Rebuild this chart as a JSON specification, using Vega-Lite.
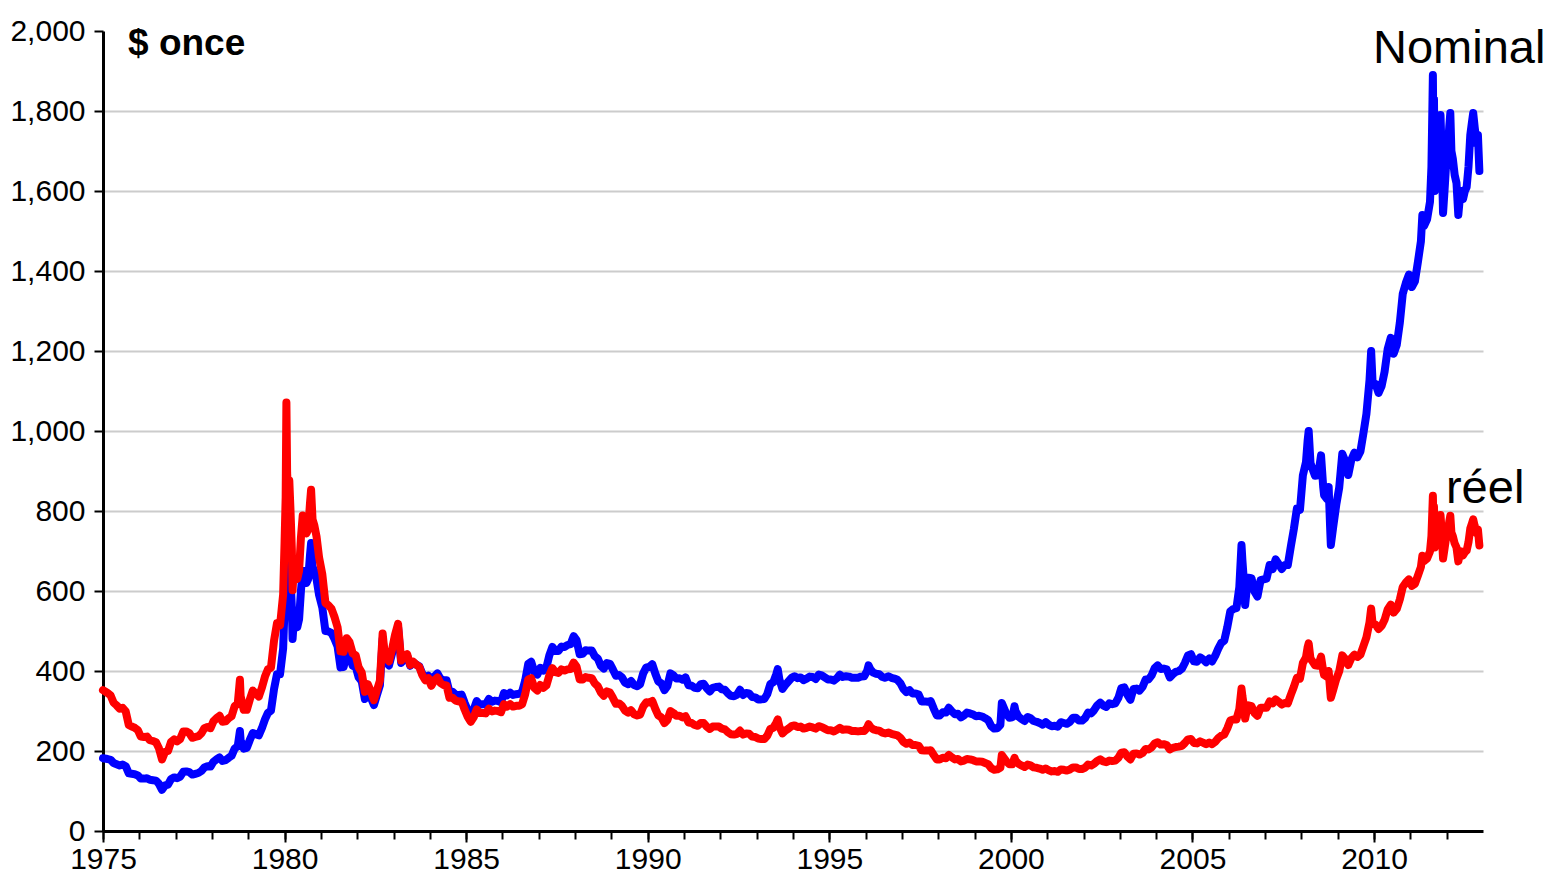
{
"$schema": "https://vega.github.io/schema/vega-lite/v6.json",
"width": 1380, "height": 800,
"autosize": {"type": "none"},
"padding": {"left": 103, "top": 31, "right": 73, "bottom": 43},
"background": "white",
"config": {"view": {"stroke": null}, "font": "Liberation Sans", "axis": {"labelOverlap": false}},
"datasets": {
"gold": [
{"t":1975.0,"n":182,"r":352},{"t":1975.125,"n":180,"r":345},{"t":1975.21,"n":178,"r":339},{"t":1975.29,"n":170,"r":321},{"t":1975.375,"n":167,"r":314},{"t":1975.46,"n":164,"r":306},{"t":1975.54,"n":166,"r":308},{"t":1975.625,"n":162,"r":299},{"t":1975.71,"n":144,"r":265},{"t":1975.79,"n":143,"r":261},{"t":1975.875,"n":142,"r":258},{"t":1975.96,"n":139,"r":252},
{"t":1976.04,"n":131,"r":236},{"t":1976.125,"n":131,"r":235},{"t":1976.21,"n":132,"r":236},{"t":1976.29,"n":128,"r":227},{"t":1976.375,"n":127,"r":225},{"t":1976.46,"n":126,"r":222},{"t":1976.54,"n":118,"r":207},{"t":1976.625,"n":103,"r":179},{"t":1976.71,"n":114,"r":198},{"t":1976.79,"n":116,"r":200},{"t":1976.875,"n":130,"r":223},{"t":1976.96,"n":134,"r":229},
{"t":1977.04,"n":132,"r":224},{"t":1977.125,"n":136,"r":230},{"t":1977.21,"n":148,"r":249},{"t":1977.29,"n":149,"r":249},{"t":1977.375,"n":147,"r":245},{"t":1977.46,"n":141,"r":233},{"t":1977.54,"n":143,"r":235},{"t":1977.625,"n":145,"r":237},{"t":1977.71,"n":150,"r":244},{"t":1977.79,"n":159,"r":257},{"t":1977.875,"n":162,"r":260},{"t":1977.96,"n":161,"r":257},
{"t":1978.04,"n":173,"r":274},{"t":1978.125,"n":179,"r":282},{"t":1978.21,"n":184,"r":288},{"t":1978.29,"n":175,"r":273},{"t":1978.375,"n":177,"r":274},{"t":1978.46,"n":183,"r":282},{"t":1978.54,"n":188,"r":287},{"t":1978.625,"n":206,"r":312},{"t":1978.71,"n":212,"r":318},{"t":1978.77,"n":250,"r":378},{"t":1978.79,"n":227,"r":337},{"t":1978.875,"n":206,"r":303},{"t":1978.96,"n":208,"r":303},
{"t":1979.04,"n":227,"r":328},{"t":1979.125,"n":245,"r":351},{"t":1979.21,"n":242,"r":344},{"t":1979.29,"n":239,"r":336},{"t":1979.375,"n":257,"r":358},{"t":1979.46,"n":279,"r":386},{"t":1979.54,"n":295,"r":404},{"t":1979.625,"n":301,"r":408},{"t":1979.71,"n":355,"r":476},{"t":1979.79,"n":392,"r":519},{"t":1979.875,"n":392,"r":514},{"t":1979.96,"n":456,"r":591},
{"t":1980.0,"n":560,"r":723},{"t":1980.03,"n":650,"r":835},{"t":1980.05,"n":835,"r":1071},{"t":1980.07,"n":700,"r":895},{"t":1980.1,"n":660,"r":841},{"t":1980.13,"n":690,"r":876},{"t":1980.16,"n":640,"r":809},{"t":1980.2,"n":560,"r":704},{"t":1980.22,"n":480,"r":602},{"t":1980.25,"n":520,"r":650},{"t":1980.3,"n":520,"r":647},{"t":1980.35,"n":510,"r":630},{"t":1980.4,"n":530,"r":651},{"t":1980.45,"n":600,"r":733},{"t":1980.5,"n":650,"r":789},{"t":1980.55,"n":650,"r":785},{"t":1980.6,"n":620,"r":744},{"t":1980.65,"n":630,"r":753},{"t":1980.7,"n":690,"r":820},{"t":1980.73,"n":720,"r":853},{"t":1980.77,"n":660,"r":779},{"t":1980.82,"n":650,"r":764},{"t":1980.88,"n":630,"r":736},{"t":1980.95,"n":590,"r":684},
{"t":1981.04,"n":558,"r":641},{"t":1981.125,"n":500,"r":570},{"t":1981.21,"n":499,"r":564},{"t":1981.29,"n":495,"r":556},{"t":1981.375,"n":480,"r":535},{"t":1981.46,"n":461,"r":509},{"t":1981.54,"n":409,"r":449},{"t":1981.625,"n":410,"r":448},{"t":1981.71,"n":444,"r":482},{"t":1981.79,"n":437,"r":472},{"t":1981.875,"n":413,"r":444},{"t":1981.96,"n":410,"r":439},
{"t":1982.04,"n":384,"r":409},{"t":1982.125,"n":374,"r":396},{"t":1982.21,"n":330,"r":348},{"t":1982.29,"n":350,"r":367},{"t":1982.375,"n":334,"r":349},{"t":1982.46,"n":315,"r":327},{"t":1982.54,"n":339,"r":351},{"t":1982.625,"n":364,"r":376},{"t":1982.7,"n":480,"r":494},{"t":1982.75,"n":436,"r":449},{"t":1982.8,"n":422,"r":433},{"t":1982.875,"n":414,"r":424},{"t":1982.96,"n":444,"r":454},
{"t":1983.04,"n":481,"r":490},{"t":1983.125,"n":510,"r":518},{"t":1983.21,"n":420,"r":426},{"t":1983.29,"n":432,"r":436},{"t":1983.375,"n":438,"r":442},{"t":1983.46,"n":413,"r":415},{"t":1983.54,"n":422,"r":423},{"t":1983.625,"n":416,"r":416},{"t":1983.71,"n":412,"r":410},{"t":1983.79,"n":394,"r":390},{"t":1983.875,"n":382,"r":377},{"t":1983.96,"n":388,"r":382},
{"t":1984.04,"n":370,"r":363},{"t":1984.125,"n":386,"r":377},{"t":1984.21,"n":394,"r":384},{"t":1984.29,"n":381,"r":370},{"t":1984.375,"n":377,"r":365},{"t":1984.46,"n":377,"r":364},{"t":1984.54,"n":347,"r":333},{"t":1984.625,"n":348,"r":333},{"t":1984.71,"n":341,"r":326},{"t":1984.79,"n":340,"r":324},{"t":1984.875,"n":341,"r":324},{"t":1984.96,"n":320,"r":303},
{"t":1985.04,"n":303,"r":286},{"t":1985.125,"n":290,"r":273},{"t":1985.21,"n":304,"r":285},{"t":1985.29,"n":325,"r":304},{"t":1985.375,"n":316,"r":295},{"t":1985.46,"n":317,"r":295},{"t":1985.54,"n":317,"r":294},{"t":1985.625,"n":330,"r":306},{"t":1985.71,"n":323,"r":299},{"t":1985.79,"n":326,"r":301},{"t":1985.875,"n":325,"r":300},{"t":1985.96,"n":322,"r":297},
{"t":1986.04,"n":345,"r":317},{"t":1986.125,"n":339,"r":311},{"t":1986.21,"n":346,"r":317},{"t":1986.29,"n":340,"r":311},{"t":1986.375,"n":342,"r":313},{"t":1986.46,"n":343,"r":313},{"t":1986.54,"n":348,"r":317},{"t":1986.625,"n":376,"r":342},{"t":1986.71,"n":418,"r":379},{"t":1986.79,"n":423,"r":382},{"t":1986.875,"n":398,"r":358},{"t":1986.96,"n":391,"r":351},
{"t":1987.04,"n":408,"r":365},{"t":1987.125,"n":401,"r":358},{"t":1987.21,"n":409,"r":364},{"t":1987.29,"n":439,"r":389},{"t":1987.375,"n":460,"r":407},{"t":1987.46,"n":450,"r":397},{"t":1987.54,"n":450,"r":395},{"t":1987.625,"n":461,"r":404},{"t":1987.71,"n":460,"r":401},{"t":1987.79,"n":465,"r":404},{"t":1987.875,"n":467,"r":405},{"t":1987.96,"n":487,"r":421},
{"t":1988.04,"n":477,"r":411},{"t":1988.125,"n":442,"r":379},{"t":1988.21,"n":443,"r":379},{"t":1988.29,"n":452,"r":385},{"t":1988.375,"n":451,"r":383},{"t":1988.46,"n":451,"r":382},{"t":1988.54,"n":437,"r":369},{"t":1988.625,"n":431,"r":362},{"t":1988.71,"n":413,"r":346},{"t":1988.79,"n":406,"r":338},{"t":1988.875,"n":420,"r":349},{"t":1988.96,"n":418,"r":346},
{"t":1989.04,"n":404,"r":333},{"t":1989.125,"n":388,"r":318},{"t":1989.21,"n":390,"r":319},{"t":1989.29,"n":384,"r":313},{"t":1989.375,"n":371,"r":301},{"t":1989.46,"n":367,"r":296},{"t":1989.54,"n":375,"r":302},{"t":1989.625,"n":365,"r":292},{"t":1989.71,"n":362,"r":289},{"t":1989.79,"n":367,"r":291},{"t":1989.875,"n":394,"r":311},{"t":1989.96,"n":409,"r":322},
{"t":1990.04,"n":410,"r":321},{"t":1990.125,"n":417,"r":325},{"t":1990.21,"n":393,"r":305},{"t":1990.29,"n":374,"r":289},{"t":1990.375,"n":369,"r":284},{"t":1990.46,"n":352,"r":270},{"t":1990.54,"n":362,"r":277},{"t":1990.625,"n":394,"r":300},{"t":1990.71,"n":389,"r":295},{"t":1990.79,"n":381,"r":288},{"t":1990.875,"n":382,"r":288},{"t":1990.96,"n":378,"r":284},
{"t":1991.04,"n":384,"r":287},{"t":1991.125,"n":364,"r":271},{"t":1991.21,"n":363,"r":270},{"t":1991.29,"n":358,"r":265},{"t":1991.375,"n":357,"r":263},{"t":1991.46,"n":367,"r":270},{"t":1991.54,"n":368,"r":270},{"t":1991.625,"n":357,"r":261},{"t":1991.71,"n":349,"r":255},{"t":1991.79,"n":358,"r":261},{"t":1991.875,"n":360,"r":261},{"t":1991.96,"n":361,"r":261},
{"t":1992.04,"n":354,"r":256},{"t":1992.125,"n":353,"r":254},{"t":1992.21,"n":344,"r":247},{"t":1992.29,"n":338,"r":242},{"t":1992.375,"n":337,"r":241},{"t":1992.46,"n":341,"r":243},{"t":1992.54,"n":353,"r":251},{"t":1992.625,"n":340,"r":241},{"t":1992.71,"n":345,"r":244},{"t":1992.79,"n":344,"r":243},{"t":1992.875,"n":335,"r":236},{"t":1992.96,"n":334,"r":235},
{"t":1993.04,"n":329,"r":231},{"t":1993.125,"n":329,"r":230},{"t":1993.21,"n":330,"r":230},{"t":1993.29,"n":342,"r":238},{"t":1993.375,"n":367,"r":255},{"t":1993.46,"n":372,"r":258},{"t":1993.54,"n":392,"r":271},{"t":1993.58,"n":405,"r":279},{"t":1993.625,"n":379,"r":261},{"t":1993.71,"n":355,"r":244},{"t":1993.79,"n":365,"r":251},{"t":1993.875,"n":374,"r":256},{"t":1993.96,"n":383,"r":262},
{"t":1994.04,"n":387,"r":264},{"t":1994.125,"n":382,"r":260},{"t":1994.21,"n":384,"r":261},{"t":1994.29,"n":377,"r":256},{"t":1994.375,"n":381,"r":258},{"t":1994.46,"n":386,"r":261},{"t":1994.54,"n":385,"r":259},{"t":1994.625,"n":380,"r":256},{"t":1994.71,"n":391,"r":262},{"t":1994.79,"n":389,"r":260},{"t":1994.875,"n":384,"r":256},{"t":1994.96,"n":379,"r":252},
{"t":1995.04,"n":379,"r":252},{"t":1995.125,"n":376,"r":249},{"t":1995.21,"n":382,"r":253},{"t":1995.29,"n":391,"r":258},{"t":1995.375,"n":385,"r":253},{"t":1995.46,"n":387,"r":254},{"t":1995.54,"n":386,"r":253},{"t":1995.625,"n":383,"r":250},{"t":1995.71,"n":383,"r":250},{"t":1995.79,"n":383,"r":249},{"t":1995.875,"n":386,"r":250},{"t":1995.96,"n":387,"r":250},
{"t":1996.04,"n":400,"r":258},{"t":1996.08,"n":414,"r":267},{"t":1996.125,"n":405,"r":261},{"t":1996.21,"n":396,"r":254},{"t":1996.29,"n":393,"r":252},{"t":1996.375,"n":392,"r":251},{"t":1996.46,"n":385,"r":246},{"t":1996.54,"n":383,"r":244},{"t":1996.625,"n":387,"r":246},{"t":1996.71,"n":383,"r":243},{"t":1996.79,"n":381,"r":241},{"t":1996.875,"n":378,"r":239},{"t":1996.96,"n":369,"r":233},
{"t":1997.04,"n":355,"r":223},{"t":1997.125,"n":347,"r":218},{"t":1997.21,"n":352,"r":221},{"t":1997.29,"n":344,"r":215},{"t":1997.375,"n":344,"r":215},{"t":1997.46,"n":341,"r":213},{"t":1997.54,"n":324,"r":202},{"t":1997.625,"n":324,"r":201},{"t":1997.71,"n":323,"r":201},{"t":1997.79,"n":325,"r":202},{"t":1997.875,"n":306,"r":190},{"t":1997.96,"n":289,"r":179},
{"t":1998.04,"n":289,"r":179},{"t":1998.125,"n":297,"r":183},{"t":1998.21,"n":296,"r":182},{"t":1998.29,"n":308,"r":190},{"t":1998.375,"n":299,"r":184},{"t":1998.46,"n":292,"r":179},{"t":1998.54,"n":293,"r":180},{"t":1998.625,"n":284,"r":174},{"t":1998.71,"n":289,"r":176},{"t":1998.79,"n":296,"r":180},{"t":1998.875,"n":294,"r":179},{"t":1998.96,"n":291,"r":177},
{"t":1999.04,"n":287,"r":174},{"t":1999.125,"n":288,"r":174},{"t":1999.21,"n":286,"r":173},{"t":1999.29,"n":282,"r":170},{"t":1999.375,"n":277,"r":167},{"t":1999.46,"n":262,"r":157},{"t":1999.54,"n":256,"r":153},{"t":1999.625,"n":257,"r":154},{"t":1999.71,"n":265,"r":158},{"t":1999.75,"n":320,"r":190},{"t":1999.79,"n":311,"r":185},{"t":1999.875,"n":293,"r":174},{"t":1999.96,"n":283,"r":167},
{"t":2000.04,"n":284,"r":167},{"t":2000.1,"n":312,"r":183},{"t":2000.125,"n":300,"r":176},{"t":2000.21,"n":286,"r":168},{"t":2000.29,"n":280,"r":164},{"t":2000.375,"n":275,"r":160},{"t":2000.46,"n":285,"r":166},{"t":2000.54,"n":282,"r":164},{"t":2000.625,"n":275,"r":159},{"t":2000.71,"n":273,"r":158},{"t":2000.79,"n":270,"r":156},{"t":2000.875,"n":266,"r":153},{"t":2000.96,"n":272,"r":156},
{"t":2001.04,"n":266,"r":152},{"t":2001.125,"n":262,"r":149},{"t":2001.21,"n":263,"r":150},{"t":2001.29,"n":261,"r":148},{"t":2001.375,"n":272,"r":154},{"t":2001.46,"n":270,"r":153},{"t":2001.54,"n":268,"r":151},{"t":2001.625,"n":273,"r":154},{"t":2001.71,"n":283,"r":159},{"t":2001.79,"n":283,"r":159},{"t":2001.875,"n":276,"r":155},{"t":2001.96,"n":276,"r":155},
{"t":2002.04,"n":282,"r":158},{"t":2002.125,"n":296,"r":166},{"t":2002.21,"n":294,"r":164},{"t":2002.29,"n":302,"r":168},{"t":2002.375,"n":314,"r":175},{"t":2002.46,"n":321,"r":179},{"t":2002.54,"n":314,"r":174},{"t":2002.625,"n":310,"r":172},{"t":2002.71,"n":319,"r":176},{"t":2002.79,"n":317,"r":175},{"t":2002.875,"n":319,"r":176},{"t":2002.96,"n":333,"r":183},
{"t":2003.04,"n":357,"r":196},{"t":2003.125,"n":359,"r":197},{"t":2003.21,"n":340,"r":186},{"t":2003.29,"n":328,"r":179},{"t":2003.375,"n":355,"r":193},{"t":2003.46,"n":356,"r":194},{"t":2003.54,"n":351,"r":191},{"t":2003.625,"n":360,"r":195},{"t":2003.71,"n":379,"r":205},{"t":2003.79,"n":379,"r":204},{"t":2003.875,"n":389,"r":209},{"t":2003.96,"n":407,"r":219},
{"t":2004.04,"n":414,"r":222},{"t":2004.125,"n":405,"r":216},{"t":2004.21,"n":406,"r":217},{"t":2004.29,"n":404,"r":215},{"t":2004.375,"n":384,"r":204},{"t":2004.46,"n":392,"r":208},{"t":2004.54,"n":398,"r":210},{"t":2004.625,"n":400,"r":211},{"t":2004.71,"n":406,"r":213},{"t":2004.79,"n":420,"r":220},{"t":2004.875,"n":439,"r":229},{"t":2004.96,"n":442,"r":230},
{"t":2005.04,"n":424,"r":220},{"t":2005.125,"n":423,"r":219},{"t":2005.21,"n":434,"r":224},{"t":2005.29,"n":429,"r":221},{"t":2005.375,"n":422,"r":217},{"t":2005.46,"n":431,"r":221},{"t":2005.54,"n":424,"r":217},{"t":2005.625,"n":438,"r":223},{"t":2005.71,"n":456,"r":232},{"t":2005.79,"n":470,"r":238},{"t":2005.875,"n":476,"r":241},{"t":2005.96,"n":510,"r":257},
{"t":2006.04,"n":549,"r":276},{"t":2006.125,"n":555,"r":279},{"t":2006.21,"n":557,"r":279},{"t":2006.29,"n":610,"r":305},{"t":2006.35,"n":715,"r":356},{"t":2006.375,"n":676,"r":337},{"t":2006.42,"n":620,"r":309},{"t":2006.45,"n":565,"r":281},{"t":2006.5,"n":610,"r":303},{"t":2006.54,"n":633,"r":314},{"t":2006.625,"n":632,"r":312},{"t":2006.71,"n":598,"r":295},{"t":2006.79,"n":586,"r":288},{"t":2006.875,"n":627,"r":308},{"t":2006.96,"n":629,"r":308},
{"t":2007.04,"n":631,"r":308},{"t":2007.125,"n":665,"r":324},{"t":2007.21,"n":655,"r":319},{"t":2007.29,"n":679,"r":329},{"t":2007.375,"n":667,"r":323},{"t":2007.46,"n":655,"r":316},{"t":2007.54,"n":665,"r":320},{"t":2007.625,"n":665,"r":319},{"t":2007.71,"n":712,"r":341},{"t":2007.79,"n":754,"r":360},{"t":2007.875,"n":806,"r":383},{"t":2007.96,"n":803,"r":381},
{"t":2008.04,"n":889,"r":420},{"t":2008.125,"n":922,"r":434},{"t":2008.17,"n":975,"r":459},{"t":2008.2,"n":1000,"r":469},{"t":2008.25,"n":920,"r":431},{"t":2008.29,"n":909,"r":426},{"t":2008.375,"n":888,"r":414},{"t":2008.46,"n":889,"r":413},{"t":2008.54,"n":939,"r":436},{"t":2008.6,"n":860,"r":400},{"t":2008.625,"n":839,"r":390},{"t":2008.71,"n":829,"r":385},{"t":2008.75,"n":860,"r":400},{"t":2008.79,"n":760,"r":353},{"t":2008.81,"n":715,"r":333},{"t":2008.875,"n":760,"r":353},{"t":2008.96,"n":816,"r":380},
{"t":2009.04,"n":858,"r":399},{"t":2009.125,"n":943,"r":439},{"t":2009.21,"n":924,"r":430},{"t":2009.29,"n":890,"r":415},{"t":2009.375,"n":928,"r":432},{"t":2009.46,"n":946,"r":441},{"t":2009.54,"n":934,"r":435},{"t":2009.625,"n":949,"r":441},{"t":2009.71,"n":996,"r":463},{"t":2009.79,"n":1043,"r":484},{"t":2009.875,"n":1127,"r":522},{"t":2009.92,"n":1200,"r":556},{"t":2009.96,"n":1120,"r":518},
{"t":2010.04,"n":1118,"r":516},{"t":2010.125,"n":1095,"r":505},{"t":2010.21,"n":1113,"r":513},{"t":2010.29,"n":1148,"r":528},{"t":2010.375,"n":1205,"r":554},{"t":2010.46,"n":1233,"r":566},{"t":2010.54,"n":1193,"r":546},{"t":2010.625,"n":1215,"r":555},{"t":2010.71,"n":1271,"r":579},{"t":2010.79,"n":1343,"r":610},{"t":2010.875,"n":1370,"r":621},{"t":2010.96,"n":1391,"r":629},
{"t":2011.04,"n":1360,"r":613},{"t":2011.125,"n":1374,"r":618},{"t":2011.21,"n":1424,"r":639},{"t":2011.29,"n":1474,"r":660},{"t":2011.33,"n":1540,"r":688},{"t":2011.375,"n":1512,"r":675},{"t":2011.46,"n":1529,"r":681},{"t":2011.54,"n":1573,"r":699},{"t":2011.58,"n":1660,"r":737},{"t":2011.61,"n":1830,"r":812},{"t":2011.62,"n":1890,"r":838},{"t":2011.635,"n":1720,"r":762},{"t":2011.65,"n":1830,"r":811},{"t":2011.67,"n":1600,"r":709},{"t":2011.69,"n":1780,"r":788},{"t":2011.72,"n":1640,"r":726},{"t":2011.76,"n":1720,"r":760},{"t":2011.8,"n":1660,"r":733},{"t":2011.83,"n":1790,"r":790},{"t":2011.86,"n":1700,"r":750},{"t":2011.9,"n":1545,"r":681},{"t":2011.94,"n":1600,"r":705},{"t":2011.98,"n":1660,"r":731},
{"t":2012.03,"n":1700,"r":748},{"t":2012.07,"n":1760,"r":773},{"t":2012.1,"n":1795,"r":788},{"t":2012.13,"n":1700,"r":746},{"t":2012.17,"n":1680,"r":737},{"t":2012.22,"n":1640,"r":719},{"t":2012.27,"n":1620,"r":709},{"t":2012.32,"n":1540,"r":674},{"t":2012.36,"n":1580,"r":691},{"t":2012.4,"n":1600,"r":699},{"t":2012.45,"n":1580,"r":689},{"t":2012.5,"n":1600,"r":697},{"t":2012.55,"n":1610,"r":701},{"t":2012.6,"n":1660,"r":722},{"t":2012.65,"n":1740,"r":756},{"t":2012.7,"n":1775,"r":770},{"t":2012.73,"n":1795,"r":779},{"t":2012.77,"n":1760,"r":763},{"t":2012.82,"n":1720,"r":745},{"t":2012.86,"n":1740,"r":754},{"t":2012.9,"n":1650,"r":714}
],
"unit": [{"label": "$ once", "x": 1975.69, "y": 1940}],
"series": [{"label": "Nominal", "x": 2009.97, "y": 1920}, {"label": "réel", "x": 2011.98, "y": 820}]
},
"resolve": {"axis": {"x": "independent"}},
"layer": [
{
"data": {"name": "gold"},
"mark": {"type": "line", "color": "#0000FF", "strokeWidth": 8, "strokeCap": "round", "strokeJoin": "round"},
"encoding": {
"x": {"field": "t", "type": "quantitative", "title": null,
"scale": {"domain": [1975, 2013], "nice": false, "zero": false},
"axis": {"orient": "bottom", "values": [1975,1976,1977,1978,1979,1980,1981,1982,1983,1984,1985,1986,1987,1988,1989,1990,1991,1992,1993,1994,1995,1996,1997,1998,1999,2000,2001,2002,2003,2004,2005,2006,2007,2008,2009,2010,2011,2012],
"labels": false, "grid": false,
"domainColor": "#000000", "domainWidth": 3, "tickColor": "#000000", "tickWidth": 2,
"tickSize": 8}},
"y": {"field": "n", "type": "quantitative", "title": null,
"scale": {"domain": [0, 2000], "nice": false},
"axis": {"values": [0,200,400,600,800,1000,1200,1400,1600,1800,2000], "format": ",d",
"grid": true, "gridColor": "#CCCCCC", "gridWidth": 2,
"gridOpacity": {"condition": {"test": "datum.value === 0 || datum.value === 2000", "value": 0}, "value": 1},
"domainColor": "#000000", "domainWidth": 3, "tickColor": "#000000", "tickWidth": 2,
"tickSize": 9, "labelPadding": 9,
"labelFont": "Liberation Sans", "labelFontSize": 30, "labelColor": "#000000"}}
}
},
{
"data": {"name": "gold"},
"mark": {"type": "line", "color": "#FF0000", "strokeWidth": 8, "strokeCap": "round", "strokeJoin": "round"},
"encoding": {
"x": {"field": "t", "type": "quantitative", "title": null,
"axis": {"orient": "bottom", "values": [1975,1980,1985,1990,1995,2000,2005,2010], "format": "d",
"labelOverlap": false, "labelFlush": false, "grid": false, "domain": false,
"tickColor": "#000000", "tickWidth": 2, "tickSize": 11, "labelPadding": 2,
"labelFont": "Liberation Sans", "labelFontSize": 30, "labelColor": "#000000"}},
"y": {"field": "r", "type": "quantitative", "title": null}
}
},
{
"data": {"name": "unit"},
"mark": {"type": "text", "align": "left", "baseline": "alphabetic", "font": "Liberation Sans", "fontWeight": "bold", "fontSize": 37, "color": "#000000"},
"encoding": {
"x": {"field": "x", "type": "quantitative", "title": null, "axis": null},
"y": {"field": "y", "type": "quantitative", "title": null},
"text": {"field": "label"}
}
},
{
"data": {"name": "series"},
"mark": {"type": "text", "align": "left", "baseline": "alphabetic", "font": "Liberation Sans", "fontSize": 47, "color": "#000000"},
"encoding": {
"x": {"field": "x", "type": "quantitative", "title": null, "axis": null},
"y": {"field": "y", "type": "quantitative", "title": null},
"text": {"field": "label"}
}
}
]
}
